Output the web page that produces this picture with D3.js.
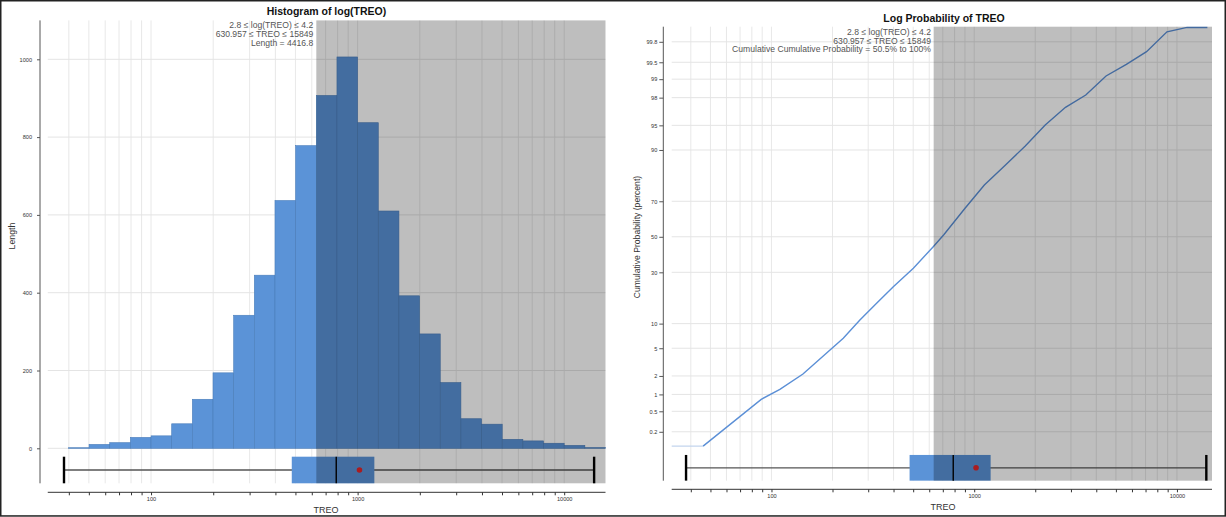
<!DOCTYPE html>
<html><head><meta charset="utf-8">
<script src="https://cdnjs.cloudflare.com/ajax/libs/d3/7.8.5/d3.min.js"></script>
<style>
body{margin:0;background:#fff}
svg{display:block}
text{font-family:"Liberation Sans",Arial,Helvetica,sans-serif}
</style>
</head><body>
<svg id="c" width="1226" height="517"></svg>
<script>
// ---------------- DATA ----------------
// histogram bins: lower edge in log10(TREO), bin width 0.1
const binLowLog = [1.6,1.7,1.8,1.9,2.0,2.1,2.2,2.3,2.4,2.5,2.6,2.7,2.8,2.9,3.0,3.1,3.2,3.3,3.4,3.5,3.6,3.7,3.8,3.9,4.0,4.1];
const binWidthLog = 0.1;
const binLength = [1.5,10,14.5,28,32,63,126,194,342,445,637,778,907,1006,837,610,392,294,169,76,62,23,19,13,7.5,2];
const histTicks = [0,200,400,600,800,1000];
const xGridValues = [40,50,60,70,80,90,100,200,300,400,500,600,700,800,900,1000,2000,3000,4000,5000,6000,7000,8000,9000,10000];
const xTickLabels = [100,1000,10000];
// selection
const selLow = 630.957, selHigh = 15849;
const annoHist = ["2.8 \u2264 log(TREO) \u2264 4.2","630.957 \u2264 TREO \u2264 15849","Length = 4416.8"];
const annoProb = ["2.8 \u2264 log(TREO) \u2264 4.2","630.957 \u2264 TREO \u2264 15849","Cumulative Cumulative Probability = 50.5% to 100%"];
// box plot stats: min, q1, median, q3, max ; mean
const boxStats = [37.9, 480, 788, 1205, 13960];
const boxMean = 1021;
// log probability curve
const probTREO = [46, 89, 110, 143, 226, 273, 330, 399, 501, 628, 708, 901, 1122, 1414, 1786, 2240, 2820, 3550, 4470, 5630, 7080, 8930, 11220, 14130];
const probPct  = [0.10, 0.822, 1.22, 2.14, 6.7, 10.97, 16.3, 23.1, 32.1, 44.2, 51.2, 66.3, 77.8, 85.3, 91.0, 95.05, 97.2, 98.18, 99.12, 99.455, 99.685, 99.876, 99.9, 99.9];
const probTicks = [0.2,0.5,1,2,5,10,30,50,70,90,95,98,99,99.5,99.8];

// ---------------- helpers ----------------
function qnorm(p){ // Acklam inverse normal CDF
  const a=[-3.969683028665376e+01,2.209460984245205e+02,-2.759285104469687e+02,1.383577518672690e+02,-3.066479806614716e+01,2.506628277459239e+00];
  const b=[-5.447609879822406e+01,1.615858368580409e+02,-1.556989798598866e+02,6.680131188771972e+01,-1.328068155288572e+01];
  const c=[-7.784894002430293e-03,-3.223964580411365e-01,-2.400758277161838e+00,-2.549732539343734e+00,4.374664141464968e+00,2.938163982698783e+00];
  const d=[7.784695709041462e-03,3.224671290700398e-01,2.445134137142996e+00,3.754408661907416e+00];
  const pl=0.02425, ph=1-pl; let q,r;
  if(p<pl){q=Math.sqrt(-2*Math.log(p));return (((((c[0]*q+c[1])*q+c[2])*q+c[3])*q+c[4])*q+c[5])/((((d[0]*q+d[1])*q+d[2])*q+d[3])*q+1);}
  if(p<=ph){q=p-0.5;r=q*q;return (((((a[0]*r+a[1])*r+a[2])*r+a[3])*r+a[4])*r+a[5])*q/(((((b[0]*r+b[1])*r+b[2])*r+b[3])*r+b[4])*r+1);}
  q=Math.sqrt(-2*Math.log(1-p));return -(((((c[0]*q+c[1])*q+c[2])*q+c[3])*q+c[4])*q+c[5])/((((d[0]*q+d[1])*q+d[2])*q+d[3])*q+1);
}
const LIGHT = "#5b93d7";
const FONT = '"Liberation Sans",Arial,sans-serif';
const svg = d3.select("#c");

// outer frame
svg.append("rect").attr("x",0.75).attr("y",0.75).attr("width",1224.5).attr("height",515.2)
  .attr("fill","none").attr("stroke","#222").attr("stroke-width",1.5);

function xAxis(g, x, y, labels){
  const ax = d3.axisBottom(x).tickValues(xGridValues).tickSize(3).tickPadding(2)
    .tickFormat(d => labels.includes(d) ? d3.format("d")(d) : "");
  const a = g.append("g").attr("transform",`translate(0,${y})`).call(ax);
  a.select(".domain").attr("stroke","#333").attr("d",`M${x.range()[0]},0H${x.range()[1]}`);
  a.selectAll(".tick line").attr("stroke","#333");
  a.selectAll(".tick text").attr("font-size",5.6).attr("fill","#333").attr("font-family",FONT);
}

function drawBox(g, x, yc, h){
  const [mn,q1,md,q3,mx] = boxStats;
  g.append("line").attr("x1",x(mn)).attr("x2",x(mx)).attr("y1",yc).attr("y2",yc)
    .attr("stroke","#555").attr("stroke-width",1.3);
  g.append("rect").attr("x",x(q1)).attr("y",yc-h/2).attr("width",x(q3)-x(q1)).attr("height",h).attr("fill",LIGHT);
  g.append("line").attr("x1",x(md)).attr("x2",x(md)).attr("y1",yc-h/2).attr("y2",yc+h/2)
    .attr("stroke","#000").attr("stroke-width",1.4);
  [mn,mx].forEach(v=>g.append("line").attr("x1",x(v)).attr("x2",x(v)).attr("y1",yc-h/2).attr("y2",yc+h/2)
    .attr("stroke","#000").attr("stroke-width",2.4));
  g.append("circle").attr("cx",x(boxMean)).attr("cy",yc).attr("r",2.8).attr("fill","#e3262c");
}

function vGrid(g, x, y0, y1){
  g.selectAll(null).data(xGridValues).enter().append("line")
    .attr("x1",d=>x(d)).attr("x2",d=>x(d)).attr("y1",y0).attr("y2",y1)
    .attr("stroke","#e2e2e2").attr("stroke-width",0.8);
}

function anno(g, lines, xr, y0, dy){
  lines.forEach((t,i)=>g.append("text").attr("x",xr).attr("y",y0+i*dy).attr("text-anchor","end")
    .attr("font-size",8.6).attr("fill","#555").text(t));
}

// ================= LEFT: Histogram =================
{
  const g = svg.append("g");
  const top = 20.4, boxBottom = 483.3;
  const x = d3.scaleLog().domain([31.62, 15849]).range([47.75, 605.5]);
  const y = d3.scaleLinear().domain([0, 1100]).range([448.3, top]);

  vGrid(g, x, top, boxBottom);
  g.selectAll(null).data(histTicks).enter().append("line")
    .attr("x1",x.range()[0]).attr("x2",x.range()[1]).attr("y1",d=>y(d)).attr("y2",d=>y(d))
    .attr("stroke","#e4e4e4").attr("stroke-width",1);

  g.selectAll(null).data(binLowLog).enter().append("rect")
    .attr("x",d=>x(Math.pow(10,d)))
    .attr("width",d=>x(Math.pow(10,d+binWidthLog))-x(Math.pow(10,d)))
    .attr("y",(d,i)=>y(binLength[i]))
    .attr("height",(d,i)=>y(0)-y(binLength[i]))
    .attr("fill",LIGHT).attr("stroke","#4a7dba").attr("stroke-width",0.6);

  drawBox(g, x, 470, 26.6);

  // selection overlay
  g.append("rect").attr("x",x(selLow)).attr("y",top).attr("width",x(selHigh)-x(selLow)).attr("height",boxBottom-top)
    .attr("fill","#000").attr("fill-opacity",0.255);

  // y axis
  const ya = g.append("g").attr("transform","translate(40,0)")
    .call(d3.axisLeft(y).tickValues(histTicks).tickSize(3).tickPadding(5).tickFormat(d3.format("d")));
  ya.select(".domain").attr("stroke","#555").attr("d",`M0,${top}V${boxBottom}`);
  ya.selectAll(".tick line").attr("stroke","#555");
  ya.selectAll(".tick text").attr("font-size",5.6).attr("fill","#333").attr("font-family",FONT);

  xAxis(g, x, 492.3, xTickLabels);

  g.append("text").attr("x",326).attr("y",513).attr("text-anchor","middle").attr("font-size",9).attr("fill","#333").text("TREO");
  g.append("text").attr("transform","translate(15,236) rotate(-90)").attr("text-anchor","middle")
    .attr("font-size",8.8).attr("fill","#333").text("Length");
  g.append("text").attr("x",326.5).attr("y",15).attr("text-anchor","middle").attr("font-size",10.5)
    .attr("font-weight","bold").attr("fill","#111").text("Histogram of log(TREO)");
  anno(g, annoHist, 313.3, 28, 9.2);
}

// ================= RIGHT: Log probability =================
{
  const g = svg.append("g");
  const top = 26.7, bottom = 480.7;
  const x = d3.scaleLog().domain([32.2, 14890]).range([671.7, 1212]);
  const y = d3.scaleLinear().domain([-3.60, 3.101]).range([bottom, top]).clamp(true);
  const yp = p => y(qnorm(p/100));

  vGrid(g, x, top, bottom);
  g.selectAll(null).data(probTicks).enter().append("line")
    .attr("x1",x.range()[0]).attr("x2",x.range()[1]).attr("y1",d=>yp(d)).attr("y2",d=>yp(d))
    .attr("stroke","#e4e4e4").attr("stroke-width",1);

  // leading flat segment (lighter)
  g.append("line").attr("x1",x.range()[0]).attr("x2",x(probTREO[0]))
    .attr("y1",yp(probPct[0])).attr("y2",yp(probPct[0]))
    .attr("stroke","#c3d5ee").attr("stroke-width",1.4);
  const pts = probTREO.map((t,i)=>[t,probPct[i]]);
  g.append("path").datum(pts)
    .attr("d", d3.line().x(d=>x(d[0])).y(d=>yp(d[1])))
    .attr("fill","none").attr("stroke","#5b8fd6").attr("stroke-width",1.4);

  drawBox(g, x, 467.8, 25.7);

  g.append("rect").attr("x",x(selLow)).attr("y",top).attr("width",x.range()[1]-x(selLow)).attr("height",bottom-top)
    .attr("fill","#000").attr("fill-opacity",0.255);

  const zt = probTicks.map(p=>qnorm(p/100));
  const ya = g.append("g").attr("transform","translate(663.3,0)")
    .call(d3.axisLeft(y).tickValues(zt).tickSize(4).tickPadding(2).tickFormat((d,i)=>String(probTicks[i])));
  ya.select(".domain").attr("stroke","#555").attr("d",`M0,${top}V${bottom}`);
  ya.selectAll(".tick line").attr("stroke","#555");
  ya.selectAll(".tick text").attr("font-size",5.6).attr("fill","#333").attr("font-family",FONT);

  xAxis(g, x, 489.3, xTickLabels);

  g.append("text").attr("x",943).attr("y",510).attr("text-anchor","middle").attr("font-size",9).attr("fill","#333").text("TREO");
  g.append("text").attr("transform","translate(639.5,237) rotate(-90)").attr("text-anchor","middle")
    .attr("font-size",8.6).attr("fill","#333").text("Cumulative Probability (percent)");
  g.append("text").attr("x",944).attr("y",22).attr("text-anchor","middle").attr("font-size",10.5)
    .attr("font-weight","bold").attr("fill","#111").text("Log Probability of TREO");
  anno(g, annoProb, 931, 34.7, 8.8);
}
</script>
</body></html>
